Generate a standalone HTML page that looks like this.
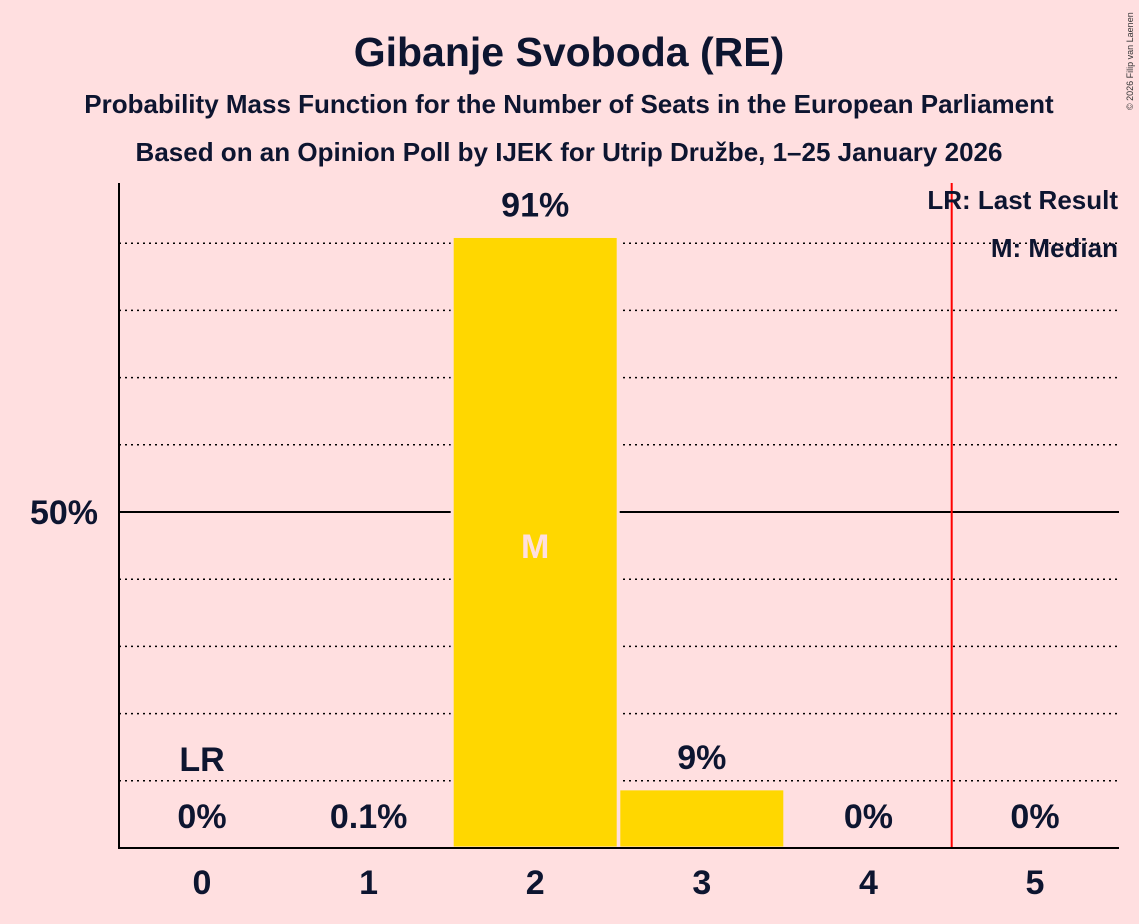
<!DOCTYPE html>
<html><head><meta charset="utf-8"><style>
body{margin:0;background:#FFDFE0;}
svg{display:block;font-family:"Liberation Sans",sans-serif;}
</style></head><body>
<svg id="c" width="1139" height="924">
<rect width="1139" height="924" fill="#FFDFE0"/>
<text x="569" y="66" text-anchor="middle" font-size="41" font-weight="bold" fill="#0D1530">Gibanje Svoboda (RE)</text>
<text x="569" y="113" text-anchor="middle" font-size="26" font-weight="bold" fill="#0D1530">Probability Mass Function for the Number of Seats in the European Parliament</text>
<text x="569" y="161" text-anchor="middle" font-size="26" font-weight="bold" fill="#0D1530">Based on an Opinion Poll by IJEK for Utrip Družbe, 1–25 January 2026</text>
<text x="1133" y="110" font-size="9" fill="#333" transform="rotate(-90 1133 110)">© 2026 Filip van Laenen</text>
<g id="grid"></g>
<g id="bars"></g>
<g id="labels"></g>
<line x1="119" y1="183" x2="119" y2="848" stroke="#000" stroke-width="2"/>
<line x1="118" y1="848" x2="1119" y2="848" stroke="#000" stroke-width="2"/>
<text x="98" y="524" text-anchor="end" font-size="34" font-weight="bold" fill="#0D1530">50%</text>
<text x="1118" y="209" text-anchor="end" font-size="26" font-weight="bold" fill="#0D1530">LR: Last Result</text>
<text x="1118" y="257" text-anchor="end" font-size="26" font-weight="bold" fill="#0D1530">M: Median</text>
</svg>
<script>
const seats=[0,1,2,3,4,5];
const probs=[0,0.1,91.0,8.8,0,0];
const probLabels=["0%","0.1%","91%","9%","0%","0%"];
const lastResult=4.5;
const median=2;
const lrSeat=0;
const ns="http://www.w3.org/2000/svg";
const x=s=>202+s*166.6;
const y=p=>848-p*6.72;
const grid=document.getElementById('grid'),bars=document.getElementById('bars'),labels=document.getElementById('labels');
function mk(tag,attrs,parent){const e=document.createElementNS(ns,tag);for(const k in attrs)e.setAttribute(k,attrs[k]);parent.appendChild(e);return e;}
for(let g=10;g<=90;g+=10){
 if(g===50)continue;
 const l=mk('line',{x1:119,x2:1119,y1:y(g),y2:y(g),stroke:'#000','stroke-width':1.5,'stroke-dasharray':'2,4'},grid);
 
 
}
const l50=mk('line',{x1:119,x2:1119,y1:y(50),y2:y(50),stroke:'#000','stroke-width':2},grid);


seats.forEach((s,i)=>{
 if(probs[i]>0.5){
  const r=mk('rect',{x:x(s)-83,y:y(probs[i]),width:166,height:848-y(probs[i]),fill:'#FFD700',stroke:'#FFDFE0','stroke-width':3},bars);
  
  
 }
 const ly=probs[i]>0.5?y(probs[i])-20:828;
 const t=mk('text',{x:x(s),y:ly,'text-anchor':'middle','font-size':34,'font-weight':'bold',fill:'#0D1530'},labels);
 t.textContent=probLabels[i];
 
 
 const xt=mk('text',{x:x(s),y:894,'text-anchor':'middle','font-size':34,'font-weight':'bold',fill:'#0D1530'},labels);
 xt.textContent=s;
 
 
});
const lr=mk('line',{x1:x(lastResult),x2:x(lastResult),y1:183,y2:848,stroke:'#FF0000','stroke-width':2},labels);


const lrt=mk('text',{x:x(lrSeat),y:771,'text-anchor':'middle','font-size':34,'font-weight':'bold',fill:'#0D1530'},labels);
lrt.textContent='LR';


const mt=mk('text',{x:x(median),y:558,'text-anchor':'middle','font-size':34,'font-weight':'bold',fill:'#FFDFE0'},labels);
mt.textContent='M';


</script>
</body></html>
